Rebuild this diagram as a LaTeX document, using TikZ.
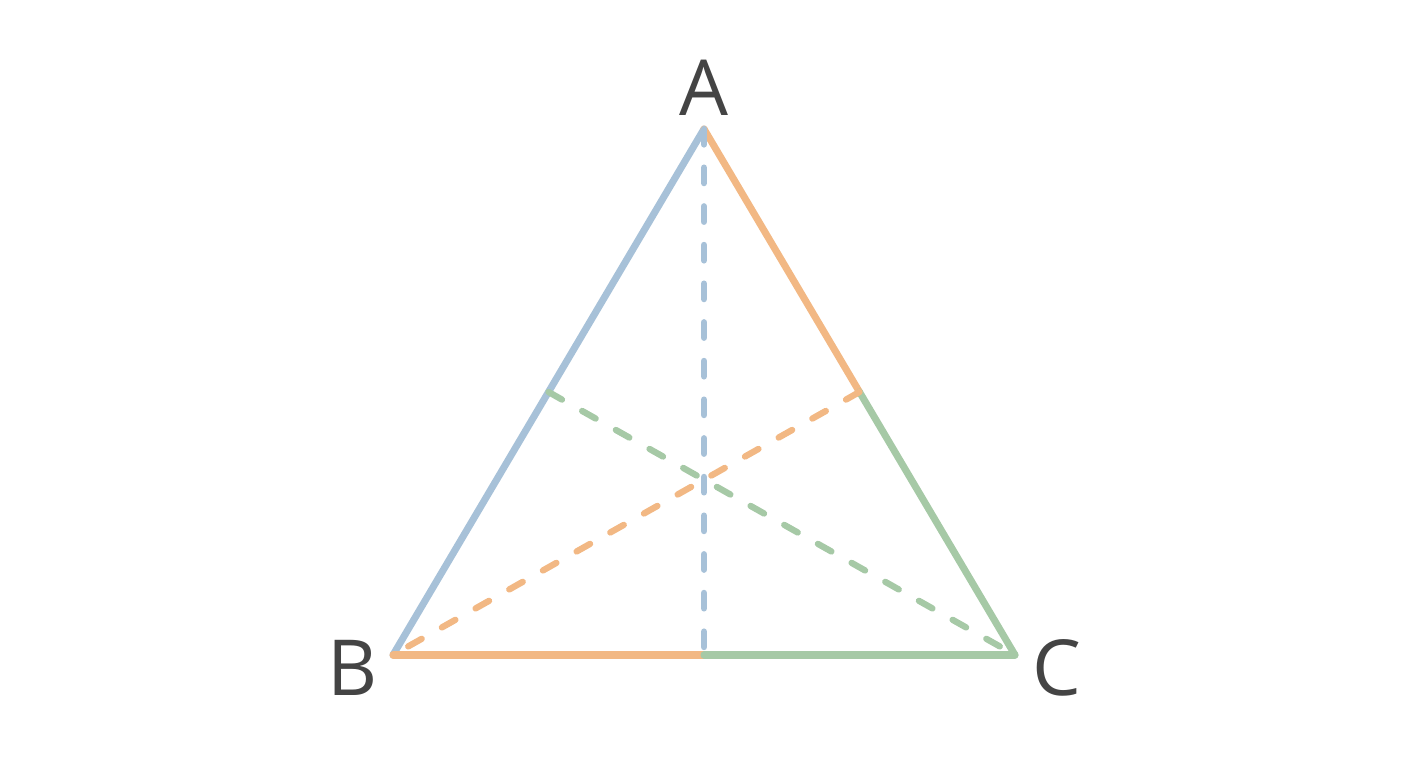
\documentclass[tikz,border=0pt]{standalone}
\usepackage{fontspec}
\setmainfont{Open Sans}
\usepackage{tikz}
\usetikzlibrary{calc}

\definecolor{sideblue}{HTML}{A7C1D8}
\definecolor{sideorange}{HTML}{F2B884}
\definecolor{sidegreen}{HTML}{A6C9A6}
\definecolor{labelgray}{HTML}{444444}

\begin{document}
\begin{tikzpicture}[x=1cm,y=1cm,line cap=round,line join=round,
    side/.style={line width=2pt},
    median/.style={line width=1.8pt,dash pattern=on 4.4pt off 6.6pt},
    vertex/.style={font=\fontsize{22}{26}\selectfont,text=labelgray,inner sep=0pt}]

    \useasboundingbox (0,0) rectangle (14.08,7.68);

    % vertices and midpoints
    \coordinate (A) at (7.04,6.39);
    \coordinate (B) at (3.93,1.13);
    \coordinate (C) at (10.15,1.13);
    \coordinate (mAB) at ($(A)!0.5!(B)$);
    \coordinate (mAC) at ($(A)!0.5!(C)$);
    \coordinate (mBC) at ($(B)!0.5!(C)$);

    % sides
    \draw[side,sideblue]   (A) -- (B);
    \draw[side,sideorange] (A) -- (mAC);
    \draw[side,sidegreen]  (mAC) -- (C);
    \draw[side,sideorange] (B) -- (mBC);
    \draw[side,sidegreen]  (mBC) -- (C);

    % medians
    \draw[median,sideblue]   (A) -- (mBC);
    \draw[median,sideorange] (mAC) -- (B);
    \draw[median,sidegreen]  (mAB) -- (C);

    % labels
    \node[vertex] (labA) at (7.04,6.80) {A};
    \node[vertex] (labB) at (3.53,1.00) {B};
    \node[vertex] (labC) at (10.57,1.00) {C};
  \end{tikzpicture}
\end{document}
